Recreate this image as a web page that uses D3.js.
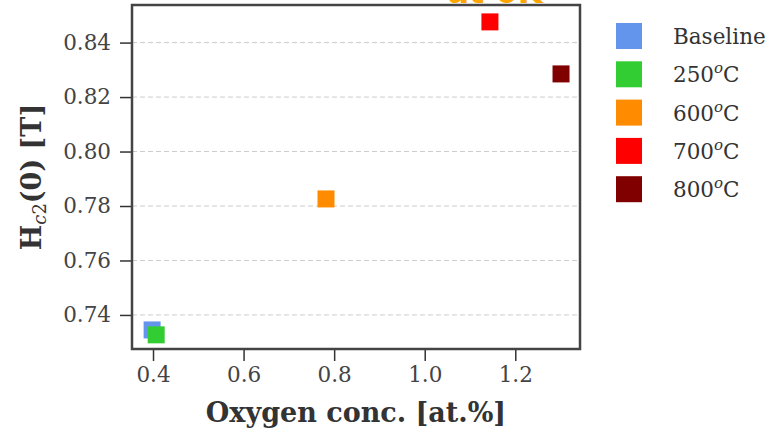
<!DOCTYPE html>
<html>
<head>
<meta charset="utf-8">
<script src="https://cdn.jsdelivr.net/npm/d3@7"></script>
<style>
  body { margin: 0; background: #fff; }
  text { font-family: "DejaVu Serif", serif; }
</style>
</head>
<body>
<svg id="chart" width="772" height="434"></svg>
<script>
// data
const samples = ['Baseline', '250', '600', '700', '800']
const oxygen = [0.398, 0.407, 0.782, 1.144, 1.301]
const hc2 = [0.7345, 0.7327, 0.7826, 0.8476, 0.8285]
const colors = ['#6495ED', '#32CD32', '#FF8C00', '#FF0000', '#800000']
const xTicks = [0.4, 0.6, 0.8, 1.0, 1.2]
const yTicks = [0.74, 0.76, 0.78, 0.80, 0.82, 0.84]

const width = 772, height = 434
const margin = { top: 5, right: 192, bottom: 85, left: 132 }
const innerWidth = width - margin.left - margin.right
const innerHeight = height - margin.top - margin.bottom

const svg = d3.select('#chart')

// scales
const x = d3.scaleLinear().domain([0.3536, 1.3429]).range([0, innerWidth])
const y = d3.scaleLinear().domain([0.7275, 0.8538]).range([innerHeight, 0])

const g = svg.append('g')
  .attr('transform', `translate(${margin.left},${margin.top})`)

// grid
g.append('g')
  .selectAll('line')
  .data(yTicks)
  .join('line')
  .attr('x1', 0)
  .attr('x2', innerWidth)
  .attr('y1', d => y(d))
  .attr('y2', d => y(d))
  .attr('stroke', '#cccccc')
  .attr('stroke-width', 1)
  .attr('stroke-dasharray', '5,3')

// axes
const xAxis = g.append('g')
  .attr('transform', `translate(0,${innerHeight})`)
  .call(d3.axisBottom(x).tickValues(xTicks).tickFormat(d3.format('.1f')).tickSize(12).tickPadding(6))
const yAxis = g.append('g')
  .call(d3.axisLeft(y).tickValues(yTicks).tickFormat(d3.format('.2f')).tickSize(12).tickPadding(9))

;[xAxis, yAxis].forEach(a => {
  a.select('.domain').remove()
  a.selectAll('.tick line').attr('stroke', '#333').attr('stroke-width', 1.5)
  a.selectAll('.tick text')
    .attr('fill', '#444')
    .style('font-size', '21.5px')
    .style('font-family', '"DejaVu Serif", serif')
})

// points
g.selectAll('rect.pt')
  .data(samples)
  .join('rect')
  .attr('class', 'pt')
  .attr('x', (d, i) => x(oxygen[i]) - 8.5)
  .attr('y', (d, i) => y(hc2[i]) - 8.5)
  .attr('width', 17)
  .attr('height', 17)
  .attr('fill', (d, i) => colors[i])

// frame
g.append('rect')
  .attr('width', innerWidth)
  .attr('height', innerHeight)
  .attr('fill', 'none')
  .attr('stroke', '#444')
  .attr('stroke-width', 2.5)

// clipped title at top
svg.append('text')
  .attr('x', 495)
  .attr('y', 3)
  .attr('text-anchor', 'middle')
  .attr('fill', '#FFA500')
  .style('font-size', '32px')
  .style('font-weight', 'bold')
  .style('font-family', '"DejaVu Sans", sans-serif')
  .text('at 0K')

// axis labels
svg.append('text')
  .attr('x', margin.left + innerWidth / 2)
  .attr('y', 422)
  .attr('text-anchor', 'middle')
  .attr('fill', '#333')
  .style('font-size', '27px')
  .style('font-weight', 'bold')
  .text('Oxygen conc. [at.%]')

const ylab = svg.append('text')
  .attr('transform', `translate(41,${margin.top + innerHeight / 2}) rotate(-90)`)
  .attr('text-anchor', 'middle')
  .attr('fill', '#333')
  .style('font-size', '27px')
  .style('font-weight', 'bold')
ylab.append('tspan').text('H')
ylab.append('tspan').attr('dy', 5).style('font-size', '18px').style('font-style', 'italic').style('font-weight', 'normal').text('c')
ylab.append('tspan').style('font-size', '18px').style('font-weight', 'normal').text('2')
ylab.append('tspan').attr('dy', -5).text('(0) [T]')

// legend
const legend = svg.append('g').attr('transform', 'translate(616,0)')
const rows = legend.selectAll('g')
  .data(samples)
  .join('g')
  .attr('transform', (d, i) => `translate(0,${36 + i * 38.3})`)
rows.append('rect')
  .attr('x', 0)
  .attr('y', -13)
  .attr('width', 26)
  .attr('height', 26)
  .attr('fill', (d, i) => colors[i])
const labels = rows.append('text')
  .attr('x', 57)
  .attr('y', 8)
  .attr('fill', '#333')
  .style('font-size', '21.5px')
labels.each(function (d) {
  const t = d3.select(this)
  if (d === 'Baseline') {
    t.text(d)
  } else {
    t.append('tspan').text(d)
    t.append('tspan').attr('dy', -9).style('font-size', '15px').style('font-style', 'italic').text('o')
    t.append('tspan').attr('dy', 9).text('C')
  }
})
</script>
</body>
</html>
